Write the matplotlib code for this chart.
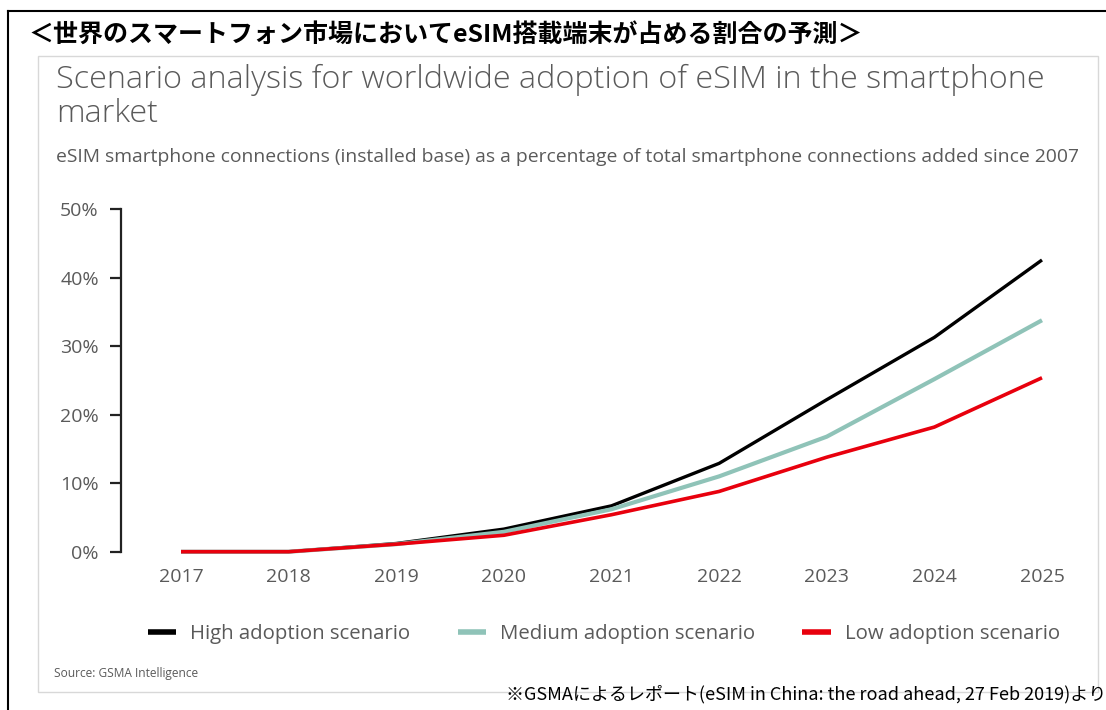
import matplotlib.pyplot as plt
from matplotlib.patches import Rectangle
from matplotlib.lines import Line2D

# data (percent of smartphone connections)
years = [2017, 2018, 2019, 2020, 2021, 2022, 2023, 2024, 2025]
high = [0, 0, 1.2, 3.3, 6.7, 12.9, 22.2, 31.3, 42.6]
medium = [0, 0, 1.1, 2.9, 6.2, 11.0, 16.8, 25.2, 33.8]
low = [0, 0, 1.1, 2.4, 5.4, 8.8, 13.8, 18.2, 25.4]
y_ticks = [0, 10, 20, 30, 40, 50]
series_names = ['High adoption scenario', 'Medium adoption scenario', 'Low adoption scenario']
series_colors = ['#000000', '#8fc3b8', '#e8000d']

W, H = 1106, 710
gray = '#5a5a5a'
font = ['Open Sans', 'DejaVu Sans']
jp_font = ['Noto Sans CJK JP', 'DejaVu Sans']

fig = plt.figure(figsize=(W / 100, H / 100), dpi=100)


def px(x, y):
    """pixel position (from top-left) to figure fraction"""
    return x / W, 1 - y / H


# outer frame and inner chart box
fig.add_artist(Line2D([8 / W, 1], [1 - 11 / H] * 2, color='black', lw=1.5))
fig.add_artist(Line2D([8 / W] * 2, [0, 1 - 11 / H], color='black', lw=1.5))
fig.add_artist(Rectangle(px(38, 692), (1098 - 38) / W, (692 - 56) / H,
                         fill=False, edgecolor='#d8d8d8', lw=1))

fig.text(*px(28, 35), '＜世界のスマートフォン市場においてeSIM搭載端末が占める割合の予測＞',
         family=jp_font, fontsize=18, fontweight='bold', va='center', ha='left')

fig.text(*px(56, 80), 'Scenario analysis for worldwide adoption of eSIM in the smartphone',
         family=font, fontsize=23.3, fontweight='light', color=gray, va='center', ha='left')
fig.text(*px(56, 114), 'market', family=font, fontsize=23.3, fontweight='light', color=gray,
         va='center', ha='left')
fig.text(*px(56, 157), 'eSIM smartphone connections (installed base) as a percentage of total smartphone connections added since 2007',
         family=font, fontsize=13.9, color=gray, va='center', ha='left')

# plot area
x0, x1 = 121, 1062
y_top, y_bot = 209.3, 551.7
ax = fig.add_axes([x0 / W, 1 - y_bot / H, (x1 - x0) / W, (y_bot - y_top) / H])
ax.set_facecolor('none')

for vals, name, c, lw in zip([high, medium, low], series_names, series_colors, [2.4, 3.0, 2.6]):
    ax.plot(years, vals, color=c, lw=lw, label=name, clip_on=False, solid_capstyle='butt')

per_year = (1042 - 181) / 8
ax.set_xlim(2017 - (181 - x0) / per_year, 2017 + (x1 - 181) / per_year)
ax.set_ylim(0, 50)
ax.set_yticks(y_ticks)
ax.set_yticklabels([f'{v}%' for v in y_ticks])
ax.set_xticks(years)
ax.set_xticklabels([str(y) for y in years])

for s in ['top', 'right', 'bottom']:
    ax.spines[s].set_visible(False)
ax.spines['left'].set_color('#222222')
ax.spines['left'].set_linewidth(1.6)
ax.tick_params(axis='y', length=8, width=1.6, color='#222222', direction='out', pad=8,
               labelsize=14, labelcolor=gray)
ax.tick_params(axis='x', length=0, pad=12, labelsize=14, labelcolor=gray)
for lab in ax.get_xticklabels() + ax.get_yticklabels():
    lab.set_family(font)

leg = fig.legend(loc='center', bbox_to_anchor=(px(604, 634)), ncol=3, frameon=False,
                 prop={'family': font, 'size': 14.7}, labelcolor=gray,
                 handlelength=1.4, handletextpad=0.7, columnspacing=2.3)
for h in leg.legend_handles:
    h.set_linewidth(4)

fig.text(*px(54, 673), 'Source: GSMA Intelligence', family=font, fontsize=8.6,
         color=gray, va='center', ha='left')
fig.text(*px(1106, 694), '※GSMAによるレポート(eSIM in China: the road ahead, 27 Feb 2019)より',
         family=jp_font, fontsize=13, va='center', ha='right')

fig.savefig('out.png', dpi=100)
